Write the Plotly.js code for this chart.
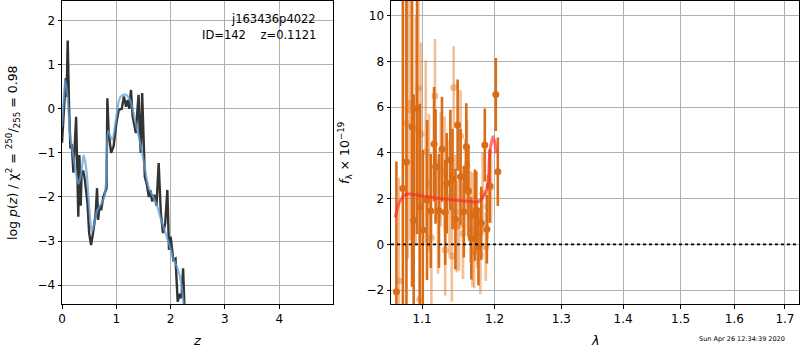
<!DOCTYPE html>
<html><head><meta charset="utf-8">
<script src="https://cdn.plot.ly/plotly-3.0.1.min.js"></script>
<style>html,body{margin:0;padding:0;background:#fff}#c{width:800px;height:350px}</style>
</head><body><div id="c"></div>
<script>
// Left panel: log p(z)
const zBlack = [0.0,0.03,0.07,0.085,0.105,0.13,0.155,0.18,0.21,0.26,0.28,0.30,0.32,0.345,0.36,0.39,0.42,0.47,0.50,0.535,0.58,0.62,0.645,0.665,0.69,0.72,0.76,0.79,0.82,0.835,0.86,0.905,0.95,1.0,1.045,1.1,1.14,1.18,1.21,1.24,1.27,1.3,1.33,1.36,1.39,1.41,1.43,1.45,1.476,1.5,1.525,1.56,1.6,1.63,1.66,1.7,1.74,1.78,1.82,1.86,1.9,1.94,1.97,2.0,2.05,2.09,2.13,2.17,2.2,2.23,2.26];
const pBlack = [-0.77,0.0,0.7,0.27,1.55,0.05,-0.9,-0.8,-1.45,-0.18,-1.9,-2.45,-1.05,-2.2,-1.47,-1.4,-1.6,-2.15,-2.82,-3.09,-2.75,-2.37,-1.8,-2.52,-2.2,-2.3,-2.0,-1.87,-1.8,0.24,-0.56,-1.0,-0.85,-0.33,-0.02,0.0,0.28,0.05,0.2,0.0,0.43,-0.17,-0.37,-0.55,0.0,0.32,-0.5,-1.0,0.36,-0.85,-1.54,-1.7,-2.0,-1.85,-2.1,-1.95,-2.2,-1.23,-2.37,-2.82,-2.6,-1.84,-3.2,-2.9,-3.43,-3.4,-4.38,-4.2,-4.3,-3.62,-4.7];
const zBlue = [0.0,0.03,0.06,0.1,0.15,0.2,0.25,0.3,0.35,0.4,0.45,0.5,0.55,0.6,0.65,0.7,0.78,0.82,0.85,0.92,1.0,1.05,1.1,1.18,1.25,1.3,1.35,1.4,1.46,1.52,1.6,1.68,1.75,1.82,1.9,1.98,2.05,2.12,2.17,2.2,2.24];
const pBlue = [-0.4,0.2,0.65,0.3,-0.6,-1.0,-1.4,-1.7,-1.5,-1.05,-1.4,-2.2,-2.8,-2.55,-2.3,-2.2,-2.0,-1.5,-0.5,-0.7,-0.2,0.2,0.3,0.32,0.2,0.0,-0.3,-0.55,-0.9,-1.3,-1.8,-2.0,-2.2,-2.5,-2.8,-3.1,-3.4,-3.6,-3.8,-4.0,-4.45];

// Right panel: spectrum
const lamSolid = [1.0667,1.075,1.0796,1.0869,1.089,1.0934,1.097,1.101,1.1066,1.1115,1.116,1.118,1.1226,1.1266,1.131,1.133,1.138,1.141,1.145,1.148,1.152,1.1565,1.16,1.163,1.167,1.172,1.174,1.177,1.181,1.186,1.189,1.193,1.2018,1.2047];
const fSolid = [-2.07,2.45,3.6,5.15,1.06,5.95,1.65,0.63,1.94,1.46,4.39,3.4,1.47,4.16,1.4,2.67,3.69,2.86,1.1,5.22,2.96,1.43,4.27,2.33,0.26,1.28,1.5,-0.1,0.92,4.35,0.66,2.55,6.56,3.18];
const eSolid = [5.7,8.5,7.5,7.0,5.5,5.5,4.5,3.5,3.5,2.5,2.5,2.5,2.5,2.3,2.3,2.2,2.2,2.2,2.2,2.0,2.1,2.0,1.9,2.0,1.8,2.0,1.7,1.7,1.6,1.6,1.5,1.6,1.6,1.5];
const lamLight = [1.0698,1.0796,1.0815,1.0848,1.0917,1.0953,1.097,1.0987,1.1049,1.1092,1.1124,1.1172,1.1213,1.125,1.1301,1.131,1.1368,1.14,1.1426,1.1446,1.1468,1.15,1.152,1.1554,1.1585,1.161,1.1655,1.1686,1.1709,1.1753,1.1797,1.183,1.1874,1.19,1.195];
const fLight = [-1.6,5.3,5.88,6.17,4.97,6.83,-2.4,4.83,4.05,2.7,0.29,6.49,1.21,3.28,3.1,-0.25,2.08,-0.51,6.87,1.43,0.77,0.84,4.74,0.48,2.6,3.44,1.21,0.63,-0.32,0.48,-0.47,2.23,-0.1,1.65,2.52];
const eLight = [4.5,6,6.5,6,5,5.5,3.5,4,4,3,3,2.5,2.5,2.5,2.5,2,2.5,2,1.8,2.5,2,2,2,2,2,2,2,2.5,1.6,1.5,1.7,1.8,1.5,1.4,1.6];
const lamModel = [1.0652,1.07,1.077,1.084,1.095,1.11,1.1236,1.14,1.155,1.1686,1.177,1.1866,1.191,1.193,1.1977,1.2,1.2023];
const fModel = [1.18,1.8,2.16,2.2,2.15,2.07,2.01,1.95,1.9,1.86,1.86,2.23,2.81,3.98,4.71,4.5,3.98];

const lamTicks = [1.1,1.2,1.3,1.4,1.5,1.6,1.7];
const lamTickText = ['1.1','1.2','1.3','1.4','1.5','1.6','1.7'];

const ORANGE = 'rgb(217,108,22)';
const ORANGE_L = 'rgba(232,128,48,0.5)';

const traces = [
  {x: zBlack, y: pBlack, xaxis:'x', yaxis:'y', mode:'lines', line:{color:'#333333', width:2.4}, hoverinfo:'skip'},
  {x: zBlue, y: pBlue, xaxis:'x', yaxis:'y', mode:'lines', line:{color:'rgba(100,160,215,0.75)', width:2.2, shape:'spline', smoothing:0.8}, hoverinfo:'skip'},
  {x: lamLight, y: fLight, xaxis:'x2', yaxis:'y2', mode:'markers', marker:{color:ORANGE_L, size:7},
   error_y:{type:'data', array:eLight, visible:true, color:ORANGE_L, thickness:2.6, width:0}},
  {x: lamSolid, y: fSolid, xaxis:'x2', yaxis:'y2', mode:'markers', marker:{color:ORANGE, size:7},
   error_y:{type:'data', array:eSolid, visible:true, color:ORANGE, thickness:2.6, width:0}},
  {x: lamModel, y: fModel, xaxis:'x2', yaxis:'y2', mode:'lines', line:{color:'rgba(255,40,40,0.65)', width:3, shape:'spline', smoothing:0.6}}
];

const axBase = {showgrid:true, gridcolor:'#b0b0b0', gridwidth:1, zeroline:false, showline:true, linecolor:'#000', linewidth:1, mirror:true,
  ticks:'outside', ticklen:3.5, tickwidth:1, tickcolor:'#000', tickfont:{family:'DejaVu Sans', size:12, color:'#000'}};

const layout = {
  width:800, height:350, margin:{l:0,r:0,t:0,b:0}, showlegend:false,
  paper_bgcolor:'#fff', plot_bgcolor:'#fff',
  xaxis: Object.assign({}, axBase, {domain:[62/800, 333/800], range:[0, 4.99], tickvals:[0,1,2,3,4], anchor:'y'}),
  yaxis: Object.assign({}, axBase, {domain:[1-304/350, 1-1/350], range:[-4.43, 2.45], tickvals:[-4,-3,-2,-1,0,1,2], anchor:'x'}),
  xaxis2: Object.assign({}, axBase, {domain:[391/800, 798.7/800], type:'log', range:[Math.log10(1.0598), Math.log10(1.7283)], tickvals:lamTicks, ticktext:lamTickText, anchor:'y2'}),
  yaxis2: Object.assign({}, axBase, {domain:[1-304/350, 1-1/350], range:[-2.61, 10.65], tickvals:[-2,0,2,4,6,8,10], anchor:'x2'}),
  shapes:[{type:'line', xref:'x2 domain', x0:0, x1:1, yref:'y2', y0:0, y1:0, line:{color:'#000', width:1.6, dash:'dot'}}],
  annotations:[
    {text:'j163436p4022', xref:'paper', yref:'paper', x:318/800, y:1-19/350, xanchor:'right', yanchor:'middle', showarrow:false, font:{family:'DejaVu Sans', size:11.5, color:'#000'}},
    {text:'ID=142    z=0.1121', xref:'paper', yref:'paper', x:318/800, y:1-35/350, xanchor:'right', yanchor:'middle', showarrow:false, font:{family:'DejaVu Sans', size:11.5, color:'#000'}},
    {text:'log <i>p</i>(<i>z</i>) / χ<sup>2</sup> = <sup>250</sup>/<sub>255</sub> = 0.98', xref:'paper', yref:'paper', x:13/800, y:1-153/350, textangle:-90, xanchor:'center', yanchor:'middle', showarrow:false, font:{family:'DejaVu Sans', size:12.5, color:'#000'}},
    {text:'<i>f</i><sub>λ</sub> × 10<sup>−19</sup>', xref:'paper', yref:'paper', x:345/800, y:1-153/350, textangle:-90, xanchor:'center', yanchor:'middle', showarrow:false, font:{family:'DejaVu Sans', size:12.5, color:'#000'}},
    {text:'<i>z</i>', xref:'paper', yref:'paper', x:197/800, y:1-340/350, xanchor:'center', yanchor:'middle', showarrow:false, font:{family:'DejaVu Sans', size:13, color:'#000'}},
    {text:'<i>λ</i>', xref:'paper', yref:'paper', x:595/800, y:1-340/350, xanchor:'center', yanchor:'middle', showarrow:false, font:{family:'DejaVu Sans', size:13, color:'#000'}},
    {text:'Sun Apr 26 12:34:39 2020', xref:'paper', yref:'paper', x:742/800, y:1-339/350, xanchor:'center', yanchor:'middle', showarrow:false, font:{family:'DejaVu Sans', size:6.5, color:'#000'}}
  ]
};
Plotly.newPlot('c', traces, layout, {staticPlot:true, displayModeBar:false});
</script></body></html>
